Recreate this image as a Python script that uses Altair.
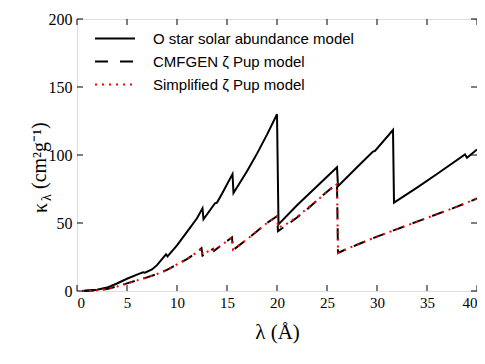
import altair as alt
import pandas as pd

# O star solar abundance model
solid_lam = [0.5, 1, 2, 3, 4, 5, 6, 6.6, 6.8, 7.5, 8, 8.9, 9.05, 10, 11, 12, 12.55, 12.65,
             13.8, 14.0, 14.5, 15.55, 15.65, 17, 18, 19, 20.0, 20.15, 22, 24, 26.0, 26.1,
             28, 29.6, 29.8, 31.6, 31.7, 34, 36, 38.8, 39.0, 40]
solid_val = [0, 0.3, 1, 2.5, 5.5, 9, 12, 13.8, 13.4, 15.8, 19, 27, 25.5, 33.5, 43.5, 53.5, 60.8, 52.7,
             64.5, 65, 71.5, 86, 72, 88, 101, 115, 130, 49, 63, 77, 91, 77,
             91, 102.5, 103, 118.4, 65, 76, 86, 100.5, 98, 104]

# CMFGEN zeta Pup model
cmf_lam = [0.5, 2, 3, 4, 5, 6, 7, 8, 9, 10, 11, 12, 12.45, 12.55, 13.6, 13.7, 14.5, 15.5, 15.6,
           17, 18, 19, 20.0, 20.1, 21, 22, 23, 24, 25, 26.0, 26.1, 27, 28, 29, 30, 32, 34, 36, 38, 40]
cmf_val = [0, 0.5, 1.5, 3.3, 5.6, 7.8, 10, 12.5, 15.5, 19.5, 23.5, 28.5, 31.5, 26, 31, 29.5, 34, 39.5, 30,
           38, 44, 50, 55, 44, 48.5, 54, 60, 66.5, 73, 79, 28, 31, 34, 37, 40, 45.5, 51, 56.5, 62, 68]

# Simplified zeta Pup model
simp_lam = [0.5, 2, 3, 4, 5, 6, 7, 8, 9, 10, 11, 12, 12.45, 12.55, 13.6, 13.7, 14.5, 15.5, 15.6,
            17, 18, 19, 20.0, 20.1, 21, 22, 23, 24, 25, 26.0, 26.1, 27, 28, 29, 30, 32, 34, 36, 38, 40]
simp_val = [0, 0.5, 1.5, 3.3, 5.6, 7.8, 10, 12.5, 15.5, 19.5, 23.5, 28.5, 31.5, 27, 31, 30, 34, 39.5, 30.5,
            38, 44, 50, 55, 46.5, 49.5, 54.5, 60.5, 66.5, 73, 78.5, 28, 31, 34, 37, 40, 45.5, 51, 56.5, 62, 68]

series_names = ["O star solar abundance model", "CMFGEN ζ Pup model", "Simplified ζ Pup model"]
x_ticks = [0, 5, 10, 15, 20, 25, 30, 35, 40]
y_ticks = [0, 50, 100, 150, 200]
y_title_parts = ["κ", "λ", "(cm²g⁻¹)"]

W, H = 400, 272
SERIF = "Liberation Serif"
SANS = "Liberation Sans"

xs = alt.Scale(domain=[0, 40], nice=False)
ys = alt.Scale(domain=[0, 200], nice=False)
xax = alt.Axis(values=x_ticks, title="λ (Å)", labelFont=SERIF, labelFontSize=15, labelPadding=4,
               titleFont=SERIF, titleFontSize=21, titleFontWeight="normal", titlePadding=11,
               ticks=False, domain=False, grid=False, labelColor="black", titleColor="black")
yax = alt.Axis(values=y_ticks, title=None, labelFont=SERIF, labelFontSize=16, labelPadding=5,
               ticks=False, domain=False, grid=False, labelColor="black")

d_solid = pd.DataFrame({"lam": solid_lam, "k": solid_val})
d_cmf = pd.DataFrame({"lam": cmf_lam, "k": cmf_val})
d_simp = pd.DataFrame({"lam": simp_lam, "k": simp_val})

solid = alt.Chart(d_solid).mark_line(color="black", strokeWidth=2).encode(
    x=alt.X("lam:Q", scale=xs, axis=xax), y=alt.Y("k:Q", scale=ys, axis=yax))
cmf = alt.Chart(d_cmf).mark_line(color="black", strokeWidth=2, strokeDash=[12, 9]).encode(
    x=alt.X("lam:Q", scale=xs), y=alt.Y("k:Q", scale=ys))
simp = alt.Chart(d_simp).mark_line(color="red", strokeWidth=2, strokeDash=[2, 5]).encode(
    x=alt.X("lam:Q", scale=xs), y=alt.Y("k:Q", scale=ys))

dx = pd.DataFrame({"v": x_ticks})
dy = pd.DataFrame({"v": y_ticks})
tick_style = dict(color="black", strokeWidth=1)
xt_bot = alt.Chart(dx).mark_rule(**tick_style).encode(x=alt.X("v:Q", scale=xs), y=alt.value(H), y2=alt.value(H - 6))
xt_top = alt.Chart(dx).mark_rule(**tick_style).encode(x=alt.X("v:Q", scale=xs), y=alt.value(0), y2=alt.value(6))
yt_l = alt.Chart(dy).mark_rule(**tick_style).encode(y=alt.Y("v:Q", scale=ys), x=alt.value(0), x2=alt.value(6))
yt_r = alt.Chart(dy).mark_rule(**tick_style).encode(y=alt.Y("v:Q", scale=ys), x=alt.value(W), x2=alt.value(W - 6))

# y-axis title with a subscript lambda (rotated text pieces)
yt_layers = []
for txt, px, py, fs in zip(y_title_parts, [-30, -26, -31], [194, 182, 170], [20, 14, 20]):
    yt_layers.append(alt.Chart(pd.DataFrame({"t": [txt]})).mark_text(
        angle=270, align="left", baseline="alphabetic", font=SERIF, fontSize=fs, color="black"
    ).encode(x=alt.value(px), y=alt.value(py), text="t:N"))

# legend
row_y = [19.5, 42.5, 65.5]
leg_styles = [dict(color="black"), dict(color="black", strokeDash=[13, 12]), dict(color="red", strokeDash=[2, 5])]
legend_layers = []
for name, yy, st in zip(series_names, row_y, leg_styles):
    ld = pd.DataFrame({"name": [name]})
    legend_layers.append(alt.Chart(ld).mark_rule(strokeWidth=2, **st).encode(
        x=alt.value(18), x2=alt.value(58), y=alt.value(yy)))
    legend_layers.append(alt.Chart(ld).mark_text(align="left", baseline="middle", font=SANS,
                                                 fontSize=15, color="black").encode(
        x=alt.value(76), y=alt.value(yy), text="name:N"))

chart = alt.layer(solid, cmf, simp, xt_bot, xt_top, yt_l, yt_r, *yt_layers, *legend_layers).properties(
    width=W, height=H,
    autosize=alt.AutoSizeParams(type="none"),
    padding={"left": 69, "top": 11, "right": 0, "bottom": 54},
).configure_view(stroke="black", strokeWidth=2).configure(background="white")

chart.save("out.html", embed_options={"renderer": "svg", "actions": False})
